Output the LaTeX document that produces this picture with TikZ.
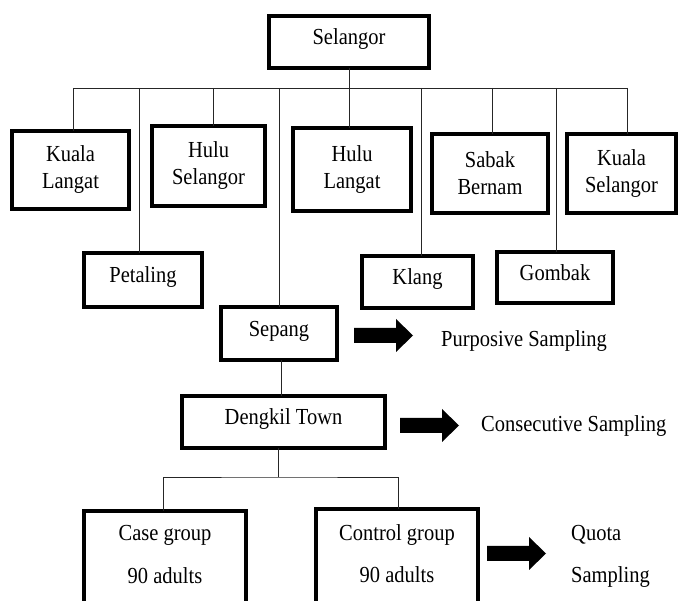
\documentclass[tikz,border=0pt]{standalone}
\usepackage{fontspec}
\setmainfont{Liberation Serif}
\newcommand\st[1]{\scalebox{1}[1.12]{#1}}
\newcommand\blkarrow[2]{% #1 = left x, #2 = centre y
  \fill[blk] (#1,#2) ++(0,-7.5) -- ++(42,0) -- ++(0,-9) -- ++(17,16.5)
    -- ++(-17,16.5) -- ++(0,-9) -- ++(-42,0) -- cycle;}
\begin{document}
\begin{tikzpicture}[x=1pt,y=-1pt,
  box/.style={draw, line width=3.2pt, outer sep=0pt, inner sep=0pt, align=center,
    font=\fontsize{20.5}{27}\selectfont},
  one/.style={text height=17pt, text depth=11pt},
  conn/.style={line width=0.9pt, black!85},
  lbl/.style={inner sep=0pt, anchor=west, text height=14pt, text depth=14pt,
    font=\fontsize{20.5}{27}\selectfont},
  blk/.style={fill=black}]
\useasboundingbox (0,0) rectangle (678,601);
\clip (0,0) rectangle (678,601);

% boxes
\node[box, one, minimum width=160, minimum height=52] (sel) at (349,42) {\st{Selangor}};
\node[box, minimum width=117, minimum height=78] (kl) at (70.5,170) {\st{Kuala}\\\st{Langat}};
\node[box, minimum width=113, minimum height=80] (hs) at (208.5,166) {\st{Hulu}\\\st{Selangor}};
\node[box, minimum width=118, minimum height=83] (hl) at (352,169.5) {\st{Hulu}\\\st{Langat}};
\node[box, minimum width=116, minimum height=79] (sb) at (490,173.5) {\st{Sabak}\\\st{Bernam}};
\node[box, minimum width=109, minimum height=79] (ks) at (621.5,173.5) {\st{Kuala}\\\st{Selangor}};
\node[box, one, minimum width=118, minimum height=54] (pet) at (143,280) {\st{Petaling}};
\node[box, one, minimum width=111, minimum height=52] (klang) at (417.5,282) {\st{Klang}};
\node[box, one, minimum width=116, minimum height=51] (gom) at (555,277.5) {\st{Gombak}};
\node[box, one, minimum width=116, minimum height=53] (sep) at (279,333.5) {\st{Sepang}};
\node[box, one, minimum width=203, minimum height=52] (deng) at (283.5,422) {\st{Dengkil Town}};
\node[box, anchor=north, minimum width=162, text height=30pt, text depth=100pt,
  font=\fontsize{20.5}{43}\selectfont] (case) at (165,511)
  {\begin{tabular}[t]{@{}c@{}}\st{Case group}\\\st{90 adults}\end{tabular}};
\node[box, anchor=north, minimum width=162, text height=31pt, text depth=100pt,
  font=\fontsize{20.5}{43}\selectfont] (ctrl) at (397,509)
  {\begin{tabular}[t]{@{}c@{}}\st{Control group}\\\st{90 adults}\end{tabular}};

% connectors
\coordinate (busL) at (73.5,88);
\coordinate (busR) at (627,88);
\coordinate (split) at (278,477);
\draw[conn] (sel.south) -- (sel.south |- hl.north);
\draw[conn] (busL) -- (busR);
\draw[conn] (busL) -- (busL |- kl.north);
\draw[conn] ([xshift=4.5pt]hs.north |- busL) -- ([xshift=4.5pt]hs.north);
\draw[conn] ([xshift=-4pt]pet.north |- busL) -- ([xshift=-4pt]pet.north);
\draw[conn] (sep.north |- busL) -- (sep.north);
\draw[conn] ([xshift=3.5pt]klang.north |- busL) -- ([xshift=3.5pt]klang.north);
\draw[conn] ([xshift=2pt]sb.north |- busL) -- ([xshift=2pt]sb.north);
\draw[conn] ([xshift=1pt]gom.north |- busL) -- ([xshift=1pt]gom.north);
\draw[conn] (busR) -- (busR |- ks.north);
\draw[conn] ([xshift=2pt]sep.south) -- ([xshift=2pt]sep.south |- deng.north);
\draw[conn] (split |- deng.south) -- (split);
\draw[conn] ([xshift=-2pt]case.north) |- (split) -| ([xshift=1pt]ctrl.north);

% block arrows
\blkarrow{354}{335.5}
\blkarrow{400}{425.5}
\blkarrow{487}{553.5}

% sampling labels
\node[lbl] (purp) at (441,346.5) {\st{Purposive Sampling}};
\node[lbl] (cons) at (481,431.5) {\st{Consecutive Sampling}};
\node[lbl] (quota) at (571,540) {\st{Quota}};
\node[lbl] (samp) at (571,583) {\st{Sampling}};
\end{tikzpicture}
\end{document}
